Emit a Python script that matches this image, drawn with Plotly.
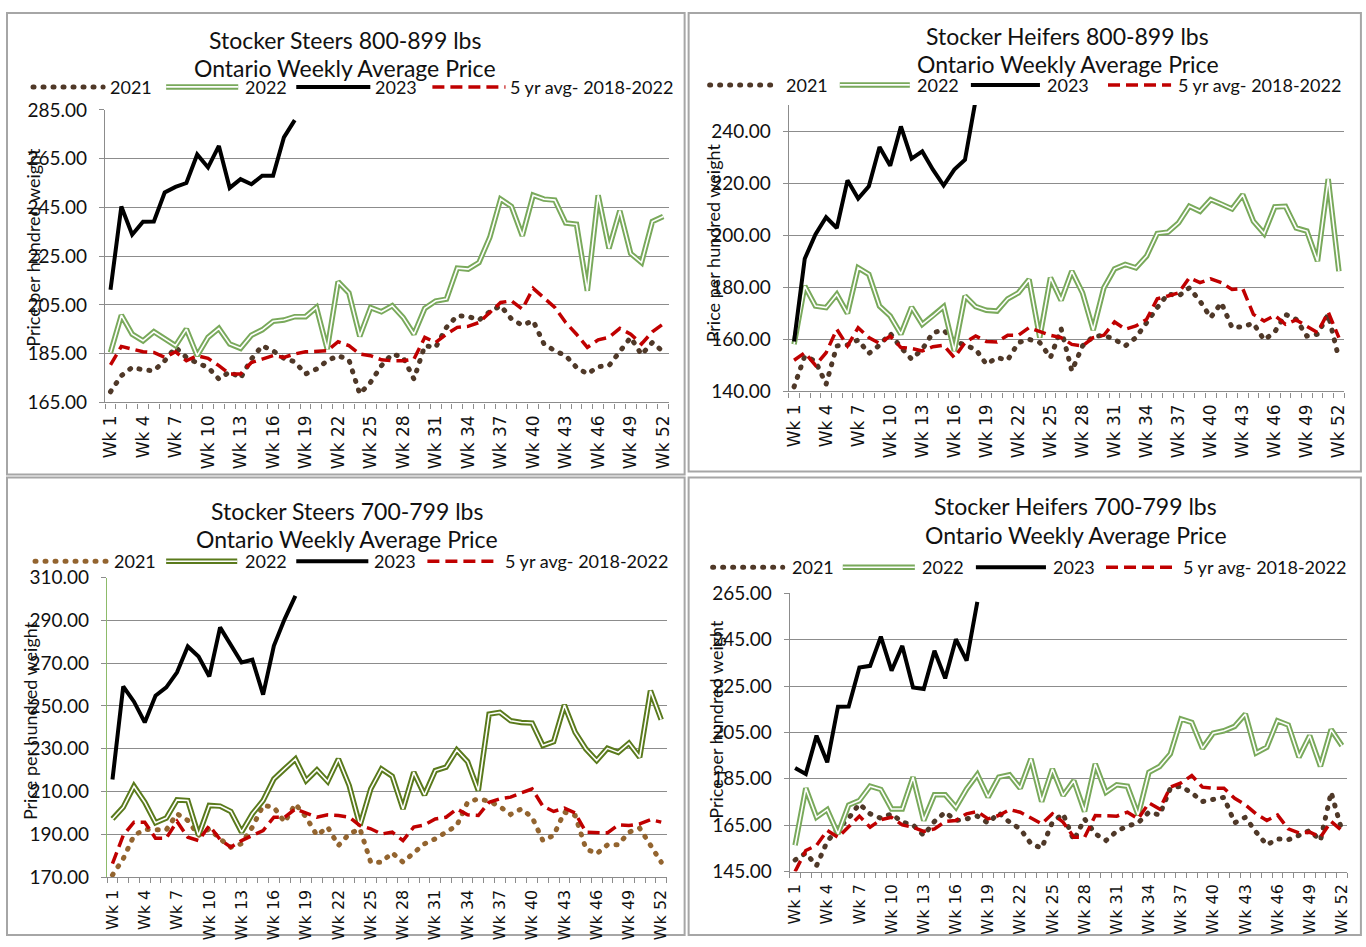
import plotly.graph_objects as go

W, H = 1366, 947
# the photographed page shows page coordinates with a small offset/scale; target positions below
# are given in picture pixels and converted back to page coordinates
AX, BX = 5.0, 0.9925
AY, BY = 12.0, 0.977

# ---------------- data ----------------
weeks = list(range(1, 53))
week_labels = [f"Wk {w}" for w in weeks]
weeks_2023 = weeks[:18]

# Stocker Steers 800-899 lbs
s89_2021 = [169.4, 176.0, 179.4, 178.4, 178.0, 182.1, 187.6, 183.5, 181.2, 179.4, 174.6, 177.6, 175.0, 182.8, 188.3, 186.2,
            183.1, 181.7, 176.7, 178.7, 182.1, 184.2, 182.5, 168.5, 173.3, 180.1, 184.9, 183.5, 174.6, 188.3, 187.6, 195.8,
            200.6, 200.3, 198.8, 202.2, 204.7, 199.2, 196.7, 198.5, 189.0, 186.2, 184.2, 179.4, 176.7, 179.7, 180.1, 186.2,
            191.7, 184.6, 189.6, 185.8]
s89_2022 = [185.5, 200.8, 193.0, 190.3, 194.0, 191.3, 188.3, 195.1, 184.2, 191.7, 195.4, 189.0, 187.2, 192.6, 194.8, 198.3,
            198.8, 200.2, 200.2, 204.0, 186.9, 214.5, 209.9, 192.1, 203.9, 202.2, 204.7, 199.9, 193.0, 203.6, 206.6, 207.4,
            220.1, 219.7, 222.4, 232.7, 248.4, 245.4, 233.4, 250.0, 248.4, 248.0, 238.6, 238.1, 210.8, 250.0, 228.2, 243.6,
            226.1, 222.4, 239.2, 241.3]
s89_2023 = [211.2, 245.4, 233.8, 239.1, 239.2, 251.1, 253.4, 255.0, 266.7, 261.4, 270.2, 253.0, 256.6, 254.5, 258.0, 258.0,
            273.7, 280.8]
s89_avg = [180.4, 188.0, 186.9, 185.8, 185.5, 183.5, 185.8, 182.1, 184.2, 183.1, 180.1, 176.7, 176.7, 181.4, 182.8, 184.2,
           183.5, 184.9, 185.8, 186.0, 186.2, 189.9, 188.3, 184.9, 184.2, 182.5, 182.1, 182.1, 182.8, 191.7, 189.6, 193.0,
           195.8, 196.2, 197.8, 201.9, 206.0, 206.7, 203.3, 211.8, 207.7, 204.0, 197.8, 193.0, 187.6, 190.7, 191.7, 195.4,
           193.0, 189.0, 194.0, 197.2]

# Stocker Heifers 800-899 lbs
h89_2021 = [141.8, 153.6, 151.7, 142.8, 157.5, 157.9, 159.8, 154.6, 157.8, 162.3, 156.9, 152.4, 156.2, 162.6, 163.6, 159.4,
            157.8, 156.2, 150.5, 153.0, 152.1, 158.8, 160.0, 158.8, 153.0, 164.1, 147.9, 157.5, 161.1, 161.6, 160.0, 157.5,
            160.7, 166.8, 172.2, 177.5, 176.7, 179.8, 174.7, 168.4, 174.1, 164.5, 164.9, 166.2, 159.8, 162.9, 169.6, 167.7,
            161.3, 162.0, 169.6, 152.6]
h89_2022 = [158.1, 180.5, 172.8, 172.2, 177.3, 170.0, 187.5, 185.0, 172.8, 169.0, 162.0, 172.4, 165.8, 169.0, 172.6, 155.6,
            176.7, 172.6, 171.2, 170.9, 175.6, 177.9, 183.0, 160.7, 183.7, 175.0, 186.2, 177.9, 163.6, 179.8, 187.1, 188.8,
            187.5, 192.0, 200.7, 201.2, 204.8, 211.1, 209.2, 213.7, 212.0, 210.1, 215.6, 205.4, 200.7, 210.9, 211.1, 202.8,
            201.6, 190.1, 221.6, 186.2]
h89_2023 = [159.2, 191.0, 200.3, 206.9, 202.8, 221.1, 214.1, 218.8, 233.9, 226.7, 241.8, 229.4, 232.2, 225.2, 219.1, 225.2,
            229.0, 252.0]
h89_avg = [152.0, 154.9, 150.1, 154.9, 163.9, 157.5, 164.5, 160.7, 158.5, 161.3, 156.9, 156.5, 155.6, 157.2, 157.8, 153.0,
           158.8, 161.3, 159.2, 159.0, 161.6, 161.6, 164.5, 162.9, 161.6, 160.7, 158.1, 157.5, 160.7, 161.6, 166.7, 163.9,
           165.2, 167.7, 175.6, 176.7, 177.9, 183.7, 181.8, 183.3, 181.8, 179.2, 179.5, 169.6, 167.1, 169.2, 165.8, 167.5,
           165.2, 162.6, 170.5, 160.7]

# Stocker Steers 700-799 lbs
s78_2021 = [171.0, 178.6, 189.5, 192.3, 192.1, 192.1, 199.6, 196.5, 189.5, 192.6, 187.9, 184.0, 185.6, 193.4, 203.5, 202.7,
            195.7, 204.2, 198.0, 189.5, 193.4, 184.8, 190.2, 192.6, 177.0, 177.0, 181.4, 177.0, 181.4, 185.6, 187.9, 191.0,
            194.1, 205.0, 206.6, 205.5, 203.0, 199.3, 201.9, 198.0, 187.1, 189.5, 200.4, 198.8, 183.3, 180.9, 185.1, 185.1,
            191.0, 192.9, 184.8, 177.0]
s78_2022 = [197.2, 202.7, 212.5, 205.0, 195.4, 197.6, 206.1, 205.8, 189.5, 203.5, 203.2, 200.7, 191.0, 199.6, 205.8, 215.9,
            220.6, 225.2, 215.1, 220.1, 214.7, 225.2, 212.8, 194.1, 211.2, 220.6, 217.2, 201.9, 219.0, 208.4, 219.8, 221.4,
            229.4, 224.0, 210.5, 246.2, 247.0, 243.1, 242.3, 242.0, 231.5, 233.3, 250.4, 237.7, 229.9, 224.5, 230.2, 228.3,
            232.6, 226.0, 257.1, 243.6]
s78_2023 = [215.6, 259.1, 252.0, 242.3, 254.8, 258.7, 265.7, 277.8, 273.1, 263.8, 286.7, 278.4, 270.3, 271.6, 255.3, 278.1,
            290.6, 301.4]
s78_avg = [176.3, 189.5, 195.7, 195.7, 188.2, 188.2, 196.0, 188.7, 187.1, 194.1, 187.6, 184.0, 187.1, 189.5, 191.8, 198.0,
           198.0, 201.9, 200.0, 198.0, 199.1, 198.8, 198.0, 194.1, 192.6, 190.2, 191.0, 187.1, 193.4, 194.4, 197.2, 198.0,
           201.9, 199.1, 198.8, 205.0, 206.6, 207.4, 209.4, 211.2, 203.2, 200.7, 202.3, 200.0, 191.0, 191.0, 190.7, 194.4,
           194.1, 194.9, 196.9, 195.7]

# Stocker Heifers 700-799 lbs
h78_2021 = [150.0, 153.0, 147.5, 158.0, 163.5, 168.0, 174.2, 169.9, 168.0, 169.9, 166.3, 165.1, 160.6, 166.6, 170.6, 167.0,
            167.7, 168.9, 165.9, 170.3, 166.3, 163.4, 157.0, 155.1, 166.3, 169.9, 158.4, 167.7, 161.3, 158.4, 162.4, 164.6,
            166.0, 170.6, 169.4, 180.9, 181.8, 178.9, 175.2, 176.3, 177.0, 166.0, 168.4, 162.0, 156.5, 159.1, 158.7, 160.6,
            162.7, 158.4, 179.2, 162.7]
h78_2022 = [156.3, 180.9, 168.4, 171.7, 161.3, 173.7, 175.6, 181.8, 180.4, 172.0, 172.0, 185.7, 167.0, 178.1, 178.1, 172.7,
            180.6, 186.8, 177.1, 185.7, 186.7, 180.9, 193.6, 175.2, 189.2, 177.8, 184.2, 170.9, 191.4, 179.2, 182.4, 181.8,
            169.4, 187.8, 190.3, 195.7, 210.8, 209.3, 198.1, 204.7, 205.7, 207.6, 212.9, 196.1, 198.6, 210.0, 208.2, 194.3,
            203.6, 190.4, 206.2, 199.3]
h78_2023 = [189.7, 187.1, 203.6, 192.1, 216.1, 216.2, 233.0, 233.7, 246.3, 231.6, 242.3, 224.4, 223.7, 240.2, 228.3, 245.2,
            235.9, 261.3]
h78_avg = [145.0, 154.1, 156.3, 162.7, 159.8, 164.1, 168.9, 164.1, 167.4, 168.4, 165.1, 164.1, 162.3, 163.4, 166.6, 167.0,
           169.9, 170.9, 167.7, 169.2, 171.7, 170.6, 168.0, 165.6, 169.9, 166.3, 159.8, 159.8, 169.2, 169.2, 168.9, 170.6,
           167.7, 174.6, 172.0, 181.4, 183.2, 186.4, 181.4, 180.9, 180.9, 176.6, 173.8, 169.9, 167.0, 169.4, 163.4, 161.7,
           162.0, 159.8, 166.6, 162.7]

series_names = ["2021", "2022", "2023", "5 yr avg- 2018-2022"]
title_line2 = "Ontario Weekly Average Price"
y_title = "Price per hundred weight"

# ---------------- styles ----------------
BROWN = "#4F3828"
BROWN_LIGHT = "#93642F"
GREEN = "#79A95B"
GREEN_DARK = "#5A7A1C"
RED = "#C00000"
GRID = "#8C8C8C"
BORDER = "#A6A6A6"
TXT = "#111111"

panels = [
    dict(title="Stocker Steers 800-899 lbs", d21=s89_2021, d22=s89_2022, d23=s89_2023, davg=s89_avg,
         yr=[165, 285], box=(105, 668, 110, 403), c21=BROWN, c22=GREEN, yline=GRID, xfs=17,
         tpos=(345, 40, 68), ytpos=(33, 248),
         leg_y=87, leg=[(33, 103), (166, 238), (296, 370), (432, 505)], leg_tx=[108, 243, 373, 508],
         frame=(7, 684, 5, 475)),
    dict(title="Stocker Heifers 800-899 lbs", d21=h89_2021, d22=h89_2022, d23=h89_2023, davg=h89_avg,
         yr=[140, 250], box=(788, 1343, 105.2, 392), c21=BROWN, c22=GREEN, yline=GRID, xfs=17,
         tpos=(1067, 36, 64), ytpos=(712, 243),
         leg_y=85, leg=[(709, 776), (839, 909), (970, 1039), (1107, 1170)], leg_tx=[783, 914, 1044, 1175],
         frame=(688, 1363, 5, 472)),
    dict(title="Stocker Steers 700-799 lbs", d21=s78_2021, d22=s78_2022, d23=s78_2023, davg=s78_avg,
         yr=[170, 310], box=(107, 666, 578.3, 878.3), c21=BROWN_LIGHT, c22=GREEN_DARK, yline="#8DBB6A", xfs=16,
         tpos=(347, 512, 540), ytpos=(30, 722),
         leg_y=562, leg=[(35, 106), (166, 237), (296, 368), (427, 497)], leg_tx=[112, 243, 372, 503],
         frame=(7, 684, 478, 960)),
    dict(title="Stocker Heifers 700-799 lbs", d21=h78_2021, d22=h78_2022, d23=h78_2023, davg=h78_avg,
         yr=[145, 265], box=(789, 1346, 594, 872.7), c21=BROWN, c22=GREEN, yline=GRID, xfs=16,
         tpos=(1075, 507, 536), ytpos=(715, 720),
         leg_y=568, leg=[(712, 782), (842, 914), (975, 1045), (1105, 1175)], leg_tx=[789, 919, 1050, 1180],
         frame=(688, 1363, 478, 960)),
]

DOT = "1px,9px"
DASH = "12px,6px"


def px(x):
    return ((x - AX) / BX) / W


def py(y):
    return 1 - ((y - AY) / BY) / H


def clamp(v, lo, hi):
    return max(lo, min(hi, v))


fig = go.Figure()
shapes = []
annotations = []
layout_axes = {}

for i, p in enumerate(panels, start=1):
    xa = "x" if i == 1 else f"x{i}"
    ya = "y" if i == 1 else f"y{i}"
    fig.add_trace(go.Scatter(x=weeks, y=p["d21"], xaxis=xa, yaxis=ya, mode="lines", name=series_names[0],
                             line=dict(color=p["c21"], width=5, dash=DOT), showlegend=False, hoverinfo="skip"))
    fig.add_trace(go.Scatter(x=weeks, y=p["d22"], xaxis=xa, yaxis=ya, mode="lines", name=series_names[1],
                             line=dict(color=p["c22"], width=5.5), showlegend=False))
    fig.add_trace(go.Scatter(x=weeks, y=p["d22"], xaxis=xa, yaxis=ya, mode="lines", name=series_names[1],
                             line=dict(color="white", width=1.6), showlegend=False, hoverinfo="skip"))
    fig.add_trace(go.Scatter(x=weeks_2023, y=p["d23"], xaxis=xa, yaxis=ya, mode="lines", name=series_names[2],
                             line=dict(color="black", width=4), showlegend=False))
    fig.add_trace(go.Scatter(x=weeks, y=p["davg"], xaxis=xa, yaxis=ya, mode="lines", name=series_names[3],
                             line=dict(color=RED, width=3.5, dash=DASH), showlegend=False))

    x0, x1, y0, y1 = p["box"]
    layout_axes["xaxis" if i == 1 else f"xaxis{i}"] = dict(
        domain=[px(x0), px(x1)], anchor=ya, range=[0.5, 52.5],
        tickmode="array", tickvals=weeks[::3], ticktext=week_labels[::3], tickangle=-90,
        tickfont=dict(family="DejaVu Sans", size=p["xfs"], color=TXT),
        showline=True, linecolor=GRID, linewidth=1.3, ticks="", showgrid=False, zeroline=False,
        ticklabelstandoff=5,
        minor=dict(ticks="outside", tickmode="linear", tick0=0.5, dtick=1, ticklen=5, tickcolor=GRID,
                   tickwidth=1, showgrid=False),
    )
    layout_axes["yaxis" if i == 1 else f"yaxis{i}"] = dict(
        domain=[py(y1), py(y0)], anchor=xa, range=p["yr"],
        tickmode="linear", tick0=p["yr"][0], dtick=20, tickformat=".2f",
        tickfont=dict(family="Lato", size=19, color=TXT),
        ticks="outside", ticklen=5, tickcolor=GRID, tickwidth=1,
        showgrid=True, gridcolor=GRID, gridwidth=1.3, zeroline=False,
        showline=True, linecolor=p["yline"], linewidth=1.3, ticklabelstandoff=8,
    )

    fx0, fx1, fy0, fy1 = p["frame"]
    shapes.append(dict(type="rect", xref="paper", yref="paper",
                       x0=clamp(px(fx0), 0.0008, 0.9992), x1=clamp(px(fx1), 0.0008, 0.9992),
                       y0=clamp(py(fy1), 0.001, 0.999), y1=clamp(py(fy0), 0.001, 0.999),
                       line=dict(color=BORDER, width=2), fillcolor="rgba(0,0,0,0)", layer="below"))

    tx, ty1, ty2 = p["tpos"]
    for txt, ty in ((p["title"], ty1), (title_line2, ty2)):
        annotations.append(dict(text=txt, x=px(tx), y=py(ty), xref="paper", yref="paper", showarrow=False,
                                xanchor="center", yanchor="middle",
                                font=dict(family="Lato", size=23, color=TXT)))
    annotations.append(dict(text=y_title, x=px(p["ytpos"][0]), y=py(p["ytpos"][1]), xref="paper", yref="paper",
                            showarrow=False, textangle=-90, xanchor="center", yanchor="middle",
                            font=dict(family="Lato", size=18, color=TXT)))

    ly = py(p["leg_y"])
    styles = [
        [dict(color=p["c21"], width=5, dash=DOT)],
        [dict(color=p["c22"], width=5.5), dict(color="white", width=1.6)],
        [dict(color="black", width=4)],
        [dict(color=RED, width=3.5, dash=DASH)],
    ]
    for (lx0, lx1), sty, tx_, name in zip(p["leg"], styles, p["leg_tx"], series_names):
        for s in sty:
            shapes.append(dict(type="line", xref="paper", yref="paper", x0=px(lx0), x1=px(lx1), y0=ly, y1=ly,
                               line=s))
        annotations.append(dict(text=name, x=px(tx_), y=ly, xref="paper", yref="paper", showarrow=False,
                                xanchor="left", yanchor="middle",
                                font=dict(family="Lato", size=18, color=TXT)))

fig.update_layout(
    width=W, height=H, margin=dict(l=0, r=0, t=0, b=0),
    paper_bgcolor="white", plot_bgcolor="white",
    showlegend=False, shapes=shapes, annotations=annotations,
    **layout_axes,
)

post = """
document.documentElement.style.margin='0';
document.documentElement.style.padding='0';
document.documentElement.style.overflow='hidden';
document.body.style.margin='0';
document.body.style.padding='0';
document.body.style.overflow='hidden';
var fix = function(){
  document.querySelectorAll('path').forEach(function(el){
    var d = el.style.strokeDasharray || '';
    if (d.replace(/\\s/g,'') === '1px,9px') { el.style.strokeLinecap = 'round'; }
  });
};
fix();
var gd = document.getElementById('{plot_id}');
if (gd && gd.on) { gd.on('plotly_afterplot', fix); }
"""

fig.write_html("out.html", config={"displayModeBar": False}, post_script=post)
